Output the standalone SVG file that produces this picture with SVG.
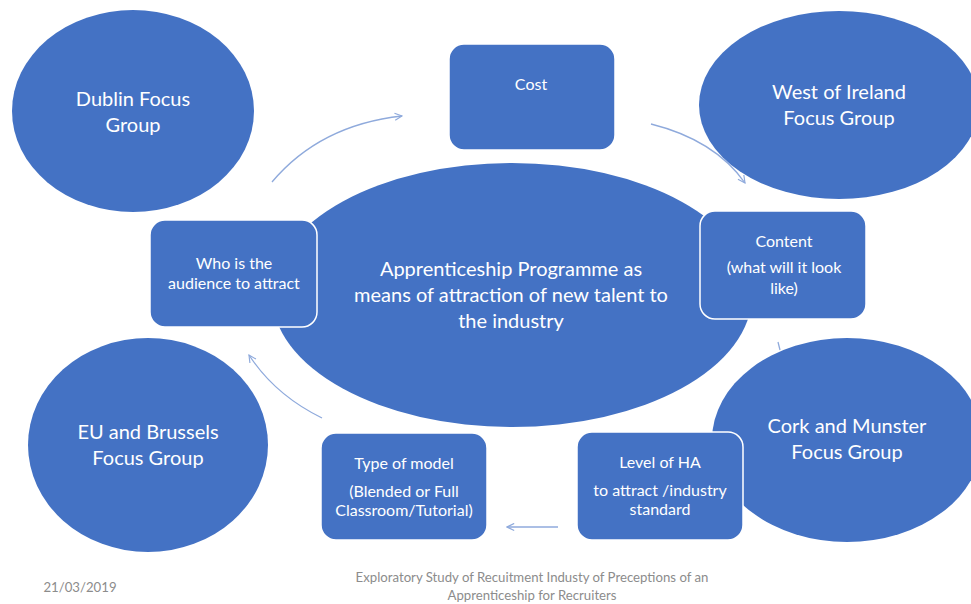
<svg xmlns="http://www.w3.org/2000/svg" width="971" height="604" viewBox="0 0 971 604">
  <defs>
    <marker id="arr" viewBox="0 0 10 10" refX="9" refY="5" markerWidth="9" markerHeight="9" markerUnits="userSpaceOnUse" orient="auto">
      <path d="M1,1 L9,5 L1,9" fill="none" stroke="#8FAADC" stroke-width="1.3"/>
    </marker>
  </defs>
  <style>
    .ell { fill: #4472C4; }
    .box { fill: #4472C4; stroke: #ffffff; stroke-width: 1.5; }
    .t { fill: #ffffff; font-family: Lato, "Open Sans", "Liberation Sans", sans-serif; text-anchor: middle; }
    .big { font-size: 20px; }
    .mid { font-size: 20px; }
    .sm { font-size: 16px; }
    .foot { fill: #8c8c8c; font-family: Lato, "Liberation Sans", sans-serif; font-size: 13.2px; text-anchor: middle; }
    .con { fill: none; stroke: #8FAADC; stroke-width: 1.3; }
  </style>
  <rect width="971" height="604" fill="#ffffff"/>

  <g id="connectors">
    <path class="con" d="M272,182 Q320,125 402,116" marker-end="url(#arr)"/>
    <path class="con" d="M651,124 Q715,140 745,183" marker-end="url(#arr)"/>
    <path class="con" d="M778,342 L780,350"/>
    <path class="con" d="M558,527 L507,527" marker-end="url(#arr)"/>
    <path class="con" d="M322,418 Q275,395 249,355" marker-end="url(#arr)"/>
  </g>

  <g id="dublin">
    <ellipse class="ell" cx="133" cy="111" rx="121" ry="101"/>
    <text class="t big" x="133" y="106">Dublin Focus</text>
    <text class="t big" x="133" y="132">Group</text>
  </g>
  <g id="west">
    <ellipse class="ell" cx="839" cy="105" rx="140" ry="94"/>
    <text class="t big" x="839" y="99">West of Ireland</text>
    <text class="t big" x="839" y="125">Focus Group</text>
  </g>
  <g id="eu">
    <ellipse class="ell" cx="148" cy="445" rx="120" ry="107"/>
    <text class="t big" x="148" y="439">EU and Brussels</text>
    <text class="t big" x="148" y="465">Focus Group</text>
  </g>
  <g id="cork">
    <ellipse class="ell" cx="847" cy="440" rx="135" ry="102"/>
    <text class="t big" x="847" y="433">Cork and Munster</text>
    <text class="t big" x="847" y="459">Focus Group</text>
  </g>
  <g id="programme">
    <ellipse class="ell" cx="512" cy="295" rx="240" ry="132"/>
    <text class="t mid" x="511" y="276">Apprenticeship Programme as</text>
    <text class="t mid" x="511" y="302">means of attraction of new talent to</text>
    <text class="t mid" x="511" y="328">the industry</text>
  </g>
  <g id="cost">
    <rect class="box" x="449" y="44" width="166" height="106" rx="15"/>
    <text class="t sm" x="531" y="90">Cost</text>
  </g>
  <g id="audience">
    <rect class="box" x="150" y="220" width="167" height="107" rx="15"/>
    <text class="t sm" x="234" y="269">Who is the</text>
    <text class="t sm" x="234" y="289">audience to attract</text>
  </g>
  <g id="content">
    <rect class="box" x="700" y="211" width="166" height="108" rx="15"/>
    <text class="t sm" x="784" y="247">Content</text>
    <text class="t sm" x="784" y="273">(what will it look</text>
    <text class="t sm" x="784" y="294">like)</text>
  </g>
  <g id="model">
    <rect class="box" x="321" y="433" width="166" height="107" rx="15"/>
    <text class="t sm" x="404" y="469">Type of model</text>
    <text class="t sm" x="404" y="497">(Blended or Full</text>
    <text class="t sm" x="404" y="516">Classroom/Tutorial)</text>
  </g>
  <g id="level">
    <rect class="box" x="577" y="432" width="166" height="108" rx="15"/>
    <text class="t sm" x="660" y="468">Level of HA</text>
    <text class="t sm" x="660" y="496">to attract /industry</text>
    <text class="t sm" x="660" y="515">standard</text>
  </g>

  <g id="footer">
    <text class="foot" x="80" y="592">21/03/2019</text>
    <text class="foot" x="532" y="582">Exploratory Study of Recuitment Industy of Preceptions of an</text>
    <text class="foot" x="532" y="600">Apprenticeship for Recruiters</text>
  </g>
</svg>
